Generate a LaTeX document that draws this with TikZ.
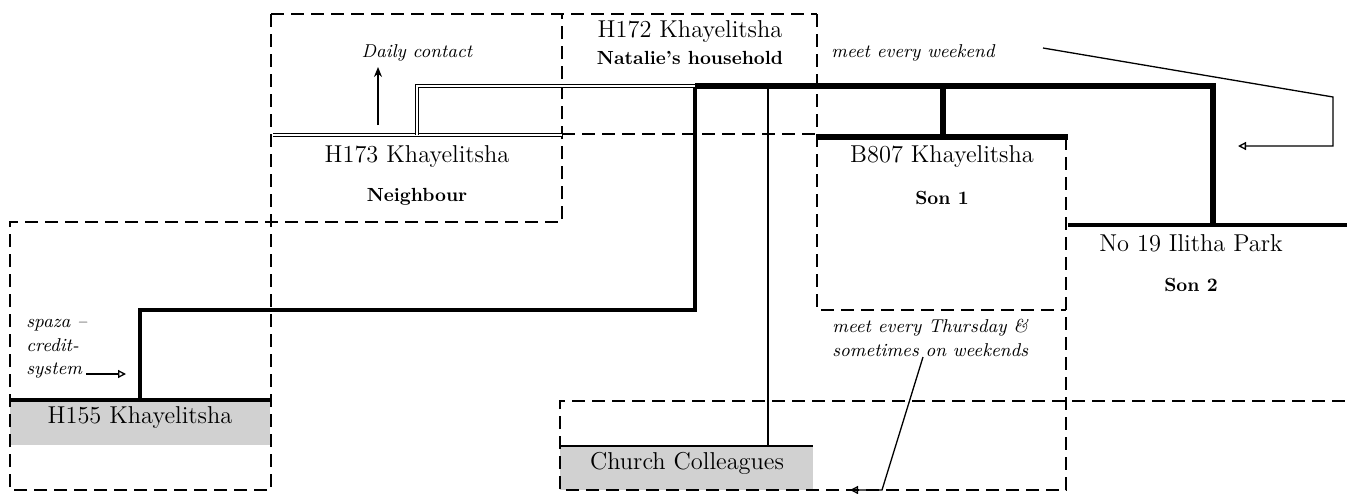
\documentclass[tikz,border=0pt]{standalone}
\usetikzlibrary{arrows.meta,positioning}

\begin{document}
\begin{tikzpicture}[x=0.5pt,y=-0.5pt,
  zone/.style={dash pattern=on 6.5pt off 3.5pt, line width=0.75pt},
  tie/.style={line width=2.2pt},
  strong tie/.style={line width=3.4pt},
  link/.style={line width=0.65pt},
  dbl/.style={double, double distance=1pt, line width=0.5pt},
  shop/.style={fill=black!18, draw=none},
  addr/.style={font=\fontsize{12.2}{14}\selectfont, inner sep=0pt},
  role/.style={font=\fontsize{9.5}{11}\selectfont\bfseries, inner sep=0pt},
  note/.style={font=\fontsize{9.3}{11.8}\selectfont\itshape, inner sep=0pt, align=left},
  opentip/.style={-{Triangle[open,length=4pt,width=4pt]}},
  solidtip/.style={-{Stealth[length=5pt,width=4pt]}}]
\useasboundingbox (0,0) rectangle (1347,493);

% Shaded bands
\fill[shop] (10,400) rectangle (270,445);
\fill[shop] (560,446) rectangle (813,490);

% Dashed zones
\draw[zone] (271,14) -- (817,14);
\draw[zone] (271,14) -- (271,490) -- (10,490) -- (10,222) -- (562,222) -- (562,14);
\draw[zone] (562,134) -- (817,134);
\draw[zone] (817,14) -- (817,310) -- (1066,310);
\draw[zone] (1066,137) -- (1066,490) -- (560,490) -- (560,401) -- (1347,401);

% Households
\node[addr] (h172) at (690,32) {H172 Khayelitsha};
\node[role] (natalie) at (690,58) {Natalie's household};
\node[addr] (h173) at (417,157) {H173 Khayelitsha};
\node[role] (neighbour) at (417,197) {Neighbour};
\node[addr] (b807) at (942,157) {B807 Khayelitsha};
\node[role] (son1) at (942,198) {Son 1};
\node[addr] (ilitha) at (1191,243) {No 19 Ilitha Park};
\node[role] (son2) at (1191,285) {Son 2};
\node[addr] (h155) at (140,418) {H155 Khayelitsha};
\node[addr] (church) at (687,463) {Church Colleagues};

% Notes
\node[note] (daily) at (417,53) {Daily contact};
\node[note] (weekend) at (913,53) {meet every weekend};
\node[note, anchor=west] (thursday) at (832,338) {meet every Thursday \&\\sometimes on weekends};
\node[note, anchor=west] (spaza) at (26,349) {spaza --\\credit-\\system};

% Junction points
\coordinate (hub) at (695,86);
\coordinate (sonA) at (943,137);
\coordinate (sonB) at (1213,225);
\coordinate (shopTop) at (140,400);
\coordinate (churchTop) at (768,446);
\coordinate (nbrTop) at (417,135);

% Edges of the households
\draw[dbl] (273,135) -- (562,135);
\draw[strong tie] (817,137) -- (1068,137);
\draw[tie] (1068,225) -- (1347,225);
\draw[tie] (10,400) -- (270,400);
\draw[link] (560,446) -- (813,446);

% Ties
\draw[tie] (shopTop) |- (695,310) -- (hub);
\draw[strong tie] (hub) -| (sonB);
\draw[strong tie] (sonA |- hub) -- (sonA);
\draw[link] (churchTop |- hub) -- (churchTop);
\draw[dbl] (nbrTop) |- (hub);

% Arrows of the notes
\coordinate (dailyFoot) at (378,125);
\coordinate (dailyHead) at (378,67);
\draw[link, solidtip] (dailyFoot) -- (dailyHead);
\coordinate (spazaFoot) at (86,374);
\coordinate (spazaHead) at (126,374);
\draw[link, opentip] (spazaFoot) -- (spazaHead);
\coordinate (weekFoot) at (1043,48);
\coordinate (weekBend) at (1333,97);
\coordinate (weekHead) at (1238,146);
\draw[link, opentip] (weekFoot) -- (weekBend) |- (weekHead);
\coordinate (thuFoot) at (923,357);
\coordinate (thuBend) at (882,490);
\coordinate (thuHead) at (850,490);
\draw[link, opentip] (thuFoot) -- (thuBend) -- (thuHead);
\end{tikzpicture}
\end{document}
